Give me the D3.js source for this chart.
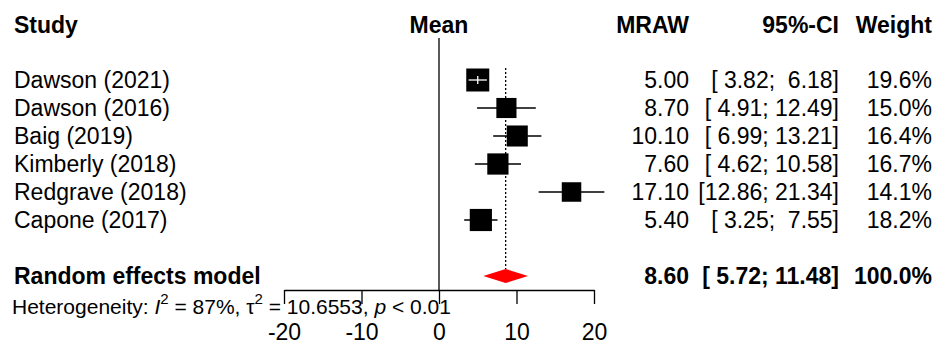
<!DOCTYPE html>
<html>
<head>
<meta charset="utf-8">
<script src="https://cdn.jsdelivr.net/npm/d3@7"></script>
<style>
  body { margin: 0; background: #fff; }
  svg text { font-family: "Liberation Sans", Arial, sans-serif; fill: #000; white-space: pre; }
</style>
</head>
<body>
<div id="chart"></div>
<script>
const studies = ['Dawson (2021)', 'Dawson (2016)', 'Baig (2019)', 'Kimberly (2018)', 'Redgrave (2018)', 'Capone (2017)'];
const mraw = [5.00, 8.70, 10.10, 7.60, 17.10, 5.40];
const ciLow = [3.82, 4.91, 6.99, 4.62, 12.86, 3.25];
const ciHigh = [6.18, 12.49, 13.21, 10.58, 21.34, 7.55];
const weights = [19.6, 15.0, 16.4, 16.7, 14.1, 18.2];
const pooled = [8.60, 5.72, 11.48];
const pooledLabel = 'Random effects model';
const tickValues = [-20, -10, 0, 10, 20];

const width = 938, height = 344;
const fs = 23;

const svg = d3.select('#chart').append('svg')
  .attr('width', width)
  .attr('height', height);

const x = d3.scaleLinear().domain([-20, 20]).range([284, 594]);
const y = d3.scalePoint().domain(d3.range(studies.length)).range([80, 220]);
const box = d3.scaleSqrt().domain([0, 19.6]).range([0, 23]);

const yHeader = 25, yPooled = 276, yAxis = 290, yHet = 307;

const f2 = d3.format('.2f');
const pad = (s, n) => s.padStart(n, ' ');
const ciText = (lo, hi) => `[${pad(f2(lo), 5)}; ${pad(f2(hi), 5)}]`;

// заголовки
const headers = [
  {t: 'Study', x: 14, a: 'start'},
  {t: 'Mean', x: x(0), a: 'middle'},
  {t: 'MRAW', x: 689, a: 'end'},
  {t: '95%-CI', x: 839, a: 'end'},
  {t: 'Weight', x: 932, a: 'end'}
];
svg.selectAll('.hdr').data(headers).join('text')
  .attr('class', 'hdr')
  .attr('x', d => d.x).attr('y', yHeader)
  .attr('dy', '0.35em')
  .attr('text-anchor', d => d.a)
  .style('font-size', fs + 'px').style('font-weight', 'bold')
  .text(d => d.t);

// линия нуля и линия среднего
svg.append('line')
  .attr('x1', x(0)).attr('x2', x(0))
  .attr('y1', 38).attr('y2', yAxis)
  .attr('stroke', '#000').attr('stroke-width', 1.3);
svg.append('line')
  .attr('x1', x(pooled[0])).attr('x2', x(pooled[0]))
  .attr('y1', 68).attr('y2', yPooled - 7)
  .attr('stroke', '#000').attr('stroke-width', 1.3)
  .attr('stroke-dasharray', '2,2');

// строки исследований
const rows = studies.map((s, i) => ({s, m: mraw[i], lo: ciLow[i], hi: ciHigh[i], w: weights[i], i}));

svg.selectAll('.name').data(rows).join('text')
  .attr('x', 14).attr('y', d => y(d.i)).attr('dy', '0.35em')
  .style('font-size', fs + 'px')
  .text(d => d.s);

svg.selectAll('.ci').data(rows).join('line')
  .attr('x1', d => x(d.lo)).attr('x2', d => x(d.hi))
  .attr('y1', d => y(d.i)).attr('y2', d => y(d.i))
  .attr('stroke', '#000').attr('stroke-width', 1.3);

svg.selectAll('.box').data(rows).join('rect')
  .attr('x', d => x(d.m) - box(d.w) / 2)
  .attr('y', d => y(d.i) - box(d.w) / 2)
  .attr('width', d => box(d.w)).attr('height', d => box(d.w))
  .attr('fill', '#000');

// ДИ внутри квадрата рисуем белым
const inside = rows.filter(d => x(d.hi) - x(d.lo) < box(d.w));
svg.selectAll('.ciw').data(inside).join('line')
  .attr('x1', d => x(d.lo)).attr('x2', d => x(d.hi))
  .attr('y1', d => y(d.i)).attr('y2', d => y(d.i))
  .attr('stroke', '#fff').attr('stroke-width', 1.3);
svg.selectAll('.ciwt').data(inside).join('line')
  .attr('x1', d => x(d.m)).attr('x2', d => x(d.m))
  .attr('y1', d => y(d.i) - 4).attr('y2', d => y(d.i) + 4)
  .attr('stroke', '#fff').attr('stroke-width', 1.3);

const cols = [
  {x: 689, f: d => f2(d.m)},
  {x: 839, f: d => ciText(d.lo, d.hi)},
  {x: 932, f: d => d.w.toFixed(1) + '%'}
];
cols.forEach(c => {
  svg.append('g').selectAll('text').data(rows).join('text')
    .attr('x', c.x).attr('y', d => y(d.i)).attr('dy', '0.35em')
    .attr('text-anchor', 'end')
    .style('font-size', fs + 'px')
    .text(c.f);
});

// итоговая модель
svg.append('text')
  .attr('x', 14).attr('y', yPooled).attr('dy', '0.35em')
  .style('font-size', fs + 'px').style('font-weight', 'bold')
  .text(pooledLabel);
svg.append('path')
  .attr('d', `M${x(pooled[1])},${yPooled} L${x(pooled[0])},${yPooled - 7} L${x(pooled[2])},${yPooled} L${x(pooled[0])},${yPooled + 7} Z`)
  .attr('fill', '#ff0000');
const pooledCols = [
  {x: 689, t: f2(pooled[0])},
  {x: 839, t: ciText(pooled[1], pooled[2])},
  {x: 932, t: '100.0%'}
];
svg.selectAll('.pc').data(pooledCols).join('text')
  .attr('x', d => d.x).attr('y', yPooled).attr('dy', '0.35em')
  .attr('text-anchor', 'end')
  .style('font-size', fs + 'px').style('font-weight', 'bold')
  .text(d => d.t);

// ось
const axis = d3.axisBottom(x)
  .tickValues(tickValues)
  .tickSize(14)
  .tickSizeOuter(0)
  .tickPadding(20)
  .tickFormat(d3.format('d'));
const ax = svg.append('g').attr('transform', `translate(0,${yAxis})`).call(axis);
ax.select('.domain').attr('stroke', '#000').attr('stroke-width', 1.3);
ax.selectAll('.tick line').attr('stroke', '#000').attr('stroke-width', 1.3);
ax.selectAll('.tick text')
  .style('font-size', fs + 'px')
  .style('font-family', '"Liberation Sans", Arial, sans-serif')
  .attr('fill', '#000')
  .text(d => d < 0 ? '-' + Math.abs(d) : d);

// гетерогенность
const het = svg.append('text')
  .attr('x', 12).attr('y', yHet).attr('dy', '0.35em')
  .style('font-size', '21px');
het.append('tspan').text('Heterogeneity: ');
het.append('tspan').style('font-style', 'italic').text('I');
het.append('tspan').attr('dy', -10).style('font-size', '15px').text('2');
het.append('tspan').attr('dy', 10).text(' = 87%, τ');
het.append('tspan').attr('dy', -10).style('font-size', '15px').text('2');
het.append('tspan').attr('dy', 10).text(' = 10.6553, ');
het.append('tspan').style('font-style', 'italic').text('p');
het.append('tspan').text(' < 0.01');
</script>
</body>
</html>
